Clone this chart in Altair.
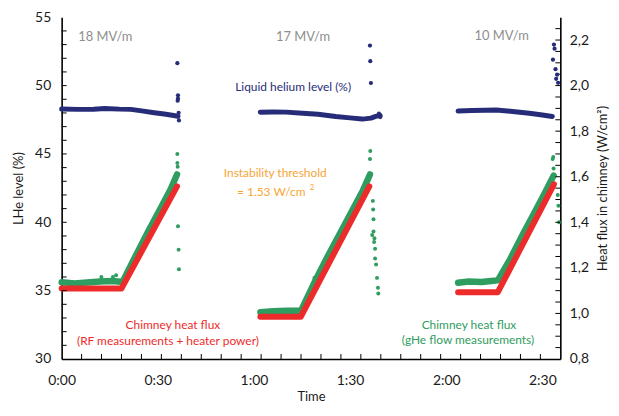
import altair as alt
import pandas as pd

FONT = "Lato"

# ---------------- data (time in minutes) ----------------
# Liquid helium level (%), three runs
lhe_t1 = [0, 5, 10, 13.4, 18, 21.6, 25, 28.9, 32, 35, 36.3]
lhe_v1 = [48.29, 48.26, 48.27, 48.33, 48.28, 48.26, 48.15, 48.02, 47.92, 47.81, 47.75]
lhe_t2 = [62, 66, 70, 75.2, 80, 85.5, 90, 93.8, 96.5, 98, 99.4]
lhe_v2 = [48.05, 48.07, 48.06, 47.98, 47.9, 47.74, 47.64, 47.55, 47.62, 47.75, 47.82]
lhe_t3 = [123.7, 128, 132, 135.6, 140, 145.9, 150, 153.1]
lhe_v3 = [48.14, 48.18, 48.2, 48.21, 48.12, 47.98, 47.85, 47.74]
# scattered LHe points at the end of each run
lhe_pt_t = [36.1, 36.3, 36.3, 36.2, 36.5, 36.6,
            96.2, 96.3, 96.5, 99.0, 99.4,
            153.6, 153.8, 153.3, 154.1, 154.3, 154.9, 154.6]
lhe_pt_v = [51.64, 49.29, 49.05, 48.9, 48.0, 47.45,
            52.93, 51.79, 50.19, 47.95, 47.7,
            53.0, 52.7, 51.9, 51.2, 50.5, 50.2, 50.8]

# Chimney heat flux from RF measurements + heater power (W/cm2)
rf_t1 = [0, 18.65, 36.0]
rf_v1 = [1.109, 1.109, 1.558]
rf_t2 = [62.0, 74.6, 96.0]
rf_v2 = [0.985, 0.985, 1.558]
rf_t3 = [123.7, 136.1, 153.6]
rf_v3 = [1.093, 1.093, 1.567]

# Chimney heat flux from gHe flow measurements (W/cm2)
gf_t1 = [0, 4, 8, 12, 16, 19.0, 23, 27, 31, 34, 36.0]
gf_v1 = [1.137, 1.132, 1.136, 1.14, 1.142, 1.138, 1.25, 1.36, 1.465, 1.545, 1.61]
gf_t2 = [62, 66, 70, 74.7, 79, 83, 87, 91, 94, 96.2]
gf_v2 = [1.005, 1.01, 1.012, 1.012, 1.14, 1.25, 1.355, 1.46, 1.54, 1.61]
gf_t3 = [123.7, 127, 131, 134, 136.1, 140, 144, 148, 151, 153.5]
gf_v3 = [1.135, 1.14, 1.138, 1.142, 1.145, 1.24, 1.35, 1.455, 1.535, 1.605]
# scattered gHe-flow points
gf_pt_t = [12.4, 16.0, 17.0, 36.1, 36.2, 36.1, 36.3, 36.5, 36.6,
           78.9, 96.3, 96.2, 97.1, 97.2, 97.3, 96.9, 97.5, 97.8, 97.8, 98.1, 98.4, 98.7, 98.8, 97.6, 97.3,
           153.2, 153.5, 153.4, 155.0, 155.2, 154.8]
gf_pt_v = [1.16, 1.16, 1.168, 1.70, 1.644, 1.66, 1.383, 1.28, 1.194,
           1.157, 1.713, 1.678, 1.494, 1.456, 1.413, 1.344, 1.314, 1.284, 1.241, 1.215, 1.156, 1.113, 1.087, 1.33, 1.36,
           1.678, 1.636, 1.687, 1.473, 1.40, 1.52]

# axis values
x_domain = [0, 155.6]
x_label_vals = [0, 30, 60, 90, 120, 150]
x_tick_vals = [round(k * 155.6 / 25, 3) for k in range(1, 25)]
yl_label_vals = [30, 35, 40, 45, 50, 55]
yl_tick_vals = list(range(31, 55))
yr_label_vals = [0.8, 1.0, 1.2, 1.4, 1.6, 1.8, 2.0, 2.2]
yr_tick_vals = [round(0.8 + 0.05 * k, 2) for k in range(1, 30)]


def runs(*pairs):
    rows = []
    for i, (ts, vs) in enumerate(pairs):
        for t, v in zip(ts, vs):
            rows.append({"t": t, "v": v, "run": i})
    return pd.DataFrame(rows)


lhe_df = runs((lhe_t1, lhe_v1), (lhe_t2, lhe_v2), (lhe_t3, lhe_v3))
lhe_pts = pd.DataFrame({"t": lhe_pt_t, "v": lhe_pt_v})
rf_df = runs((rf_t1, rf_v1), (rf_t2, rf_v2), (rf_t3, rf_v3))
gf_df = runs((gf_t1, gf_v1), (gf_t2, gf_v2), (gf_t3, gf_v3))
gf_pts = pd.DataFrame({"t": gf_pt_t, "v": gf_pt_v})

BLUE = "#272c78"
GREEN = "#2f9c60"
RED = "#ee2b2b"
ORANGE = "#f6a536"
GRAY = "#8e8e8e"
INK = "#1a1a1a"

W, H = 502, 344
TICK = 5

xs = alt.Scale(domain=x_domain, nice=False, zero=False)
yls = alt.Scale(domain=[30, 55], nice=False, zero=False)
yrs = alt.Scale(domain=[0.8, 2.3], nice=False, zero=False)

common = dict(ticks=False, tickSize=0, domain=True, domainColor="black", domainWidth=1.6, grid=False,
              labelOverlap=False, labelFlush=False, labelFontSize=14, labelColor=INK,
              titleFontSize=13, titleFontWeight="normal", titleColor=INK)

ax_x = alt.Axis(
    orient="bottom", values=x_label_vals,
    labelExpr="floor(datum.value/60) + ':' + (datum.value % 60 < 10 ? '0' : '') + (datum.value % 60)",
    labelPadding=15, title="Time", titlePadding=3, **common)
ax_yl = alt.Axis(orient="left", values=yl_label_vals, labelPadding=11,
                 title="LHe level (%)", titlePadding=9, **common)
ax_yr = alt.Axis(
    orient="right", values=yr_label_vals,
    labelExpr="replace(format(datum.value, '.1f'), '.', ',')",
    labelPadding=9, title="Heat flux in chimney (W/cm²)", titleAngle=270, titleBaseline="top",
    titlePadding=8, **common)

X = dict(scale=xs, axis=ax_x)
YL = dict(scale=yls, axis=ax_yl)
YR = dict(scale=yrs, axis=ax_yr)

line_kw = dict(strokeCap="round", strokeJoin="round")

# ---- right-axis layers (heat flux) ----
green_line = alt.Chart(gf_df).mark_line(color=GREEN, strokeWidth=6.5, **line_kw).encode(
    x=alt.X("t:Q", **X), y=alt.Y("v:Q", **YR), detail="run:N")
green_pts = alt.Chart(gf_pts).mark_circle(color=GREEN, size=16, opacity=1).encode(
    x=alt.X("t:Q", **X), y=alt.Y("v:Q", **YR))
red_line = alt.Chart(rf_df).mark_line(color=RED, strokeWidth=6, **line_kw).encode(
    x=alt.X("t:Q", **X), y=alt.Y("v:Q", **YR), detail="run:N")
yr_ticks = alt.Chart(pd.DataFrame({"v": yr_tick_vals})).mark_rule(color="black", strokeWidth=1).encode(
    y=alt.Y("v:Q", **YR), x=alt.value(W - TICK), x2=alt.value(W))
right = alt.layer(green_line, green_pts, red_line, yr_ticks)

# ---- left-axis layers (LHe level) ----
blue_line = alt.Chart(lhe_df).mark_line(color=BLUE, strokeWidth=5, **line_kw).encode(
    x=alt.X("t:Q", **X), y=alt.Y("v:Q", **YL), detail="run:N")
blue_pts = alt.Chart(lhe_pts).mark_circle(color=BLUE, size=18, opacity=1).encode(
    x=alt.X("t:Q", **X), y=alt.Y("v:Q", **YL))
yl_ticks = alt.Chart(pd.DataFrame({"v": yl_tick_vals})).mark_rule(color="black", strokeWidth=1).encode(
    y=alt.Y("v:Q", **YL), x=alt.value(0), x2=alt.value(TICK))
x_ticks = alt.Chart(pd.DataFrame({"t": x_tick_vals})).mark_rule(color="black", strokeWidth=1).encode(
    x=alt.X("t:Q", **X), y=alt.value(H - TICK), y2=alt.value(H))

one = pd.DataFrame({"a": [0]})


def note(txt, x, y, color, size=12):
    return alt.Chart(one).mark_text(text=txt, color=color, fontSize=size, font=FONT,
                                    align="center", baseline="middle").encode(
        x=alt.value(x), y=alt.value(y))


# positions in plot coordinates (plot area starts at page x=62, y=16)
notes = [
    note("18 MV/m", 44, 20, GRAY, 13),
    note("17 MV/m", 243, 20, GRAY, 13),
    note("10 MV/m", 443, 19, GRAY, 13),
    note("Liquid helium level (%)", 233, 70, BLUE, 12),
    note("Instability threshold", 215, 157, ORANGE, 12),
    note("= 1.53 W/cm", 211, 175.5, ORANGE, 12),
    note("2", 252, 172, ORANGE, 8),
    note("Chimney heat flux", 112, 310, RED, 12),
    note("(RF measurements + heater power)", 107, 325.5, RED, 12),
    note("Chimney heat flux", 410, 309.5, GREEN, 12),
    note("(gHe flow measurements)", 409, 325, GREEN, 12),
]

left = alt.layer(blue_line, blue_pts, yl_ticks, x_ticks, *notes)

chart = alt.layer(right, left).resolve_scale(y="independent").properties(
    width=W, height=H,
    padding={"left": 54, "top": 8, "right": 51, "bottom": 46},
    autosize=alt.AutoSizeParams(type="none"),
).configure_view(stroke=None).configure_axis(labelFont=FONT, titleFont=FONT)

chart.save("out.html", embed_options={"renderer": "svg", "actions": False})
